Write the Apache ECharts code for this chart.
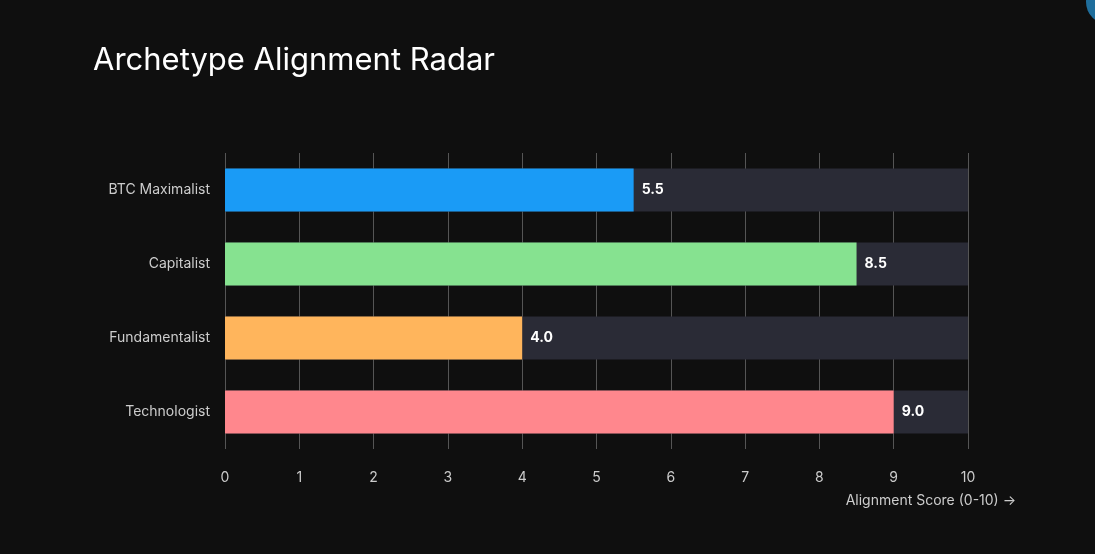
<!DOCTYPE html>
<html><head><meta charset="utf-8">
<script src="https://cdn.jsdelivr.net/npm/echarts@6/dist/echarts.min.js"></script>
<style>html,body{margin:0;background:#0f0f0f;}#c{width:1095px;height:554px;}</style>
</head><body><div id="c"></div>
<script>
const categories = ['Technologist','Fundamentalist','Capitalist','BTC Maximalist'];
const values = [9.0, 4.0, 8.5, 5.5];
const colors = ['#ff878d','#ffb55c','#86e290','#1a9bf6'];
const xTicks = [0,1,2,3,4,5,6,7,8,9,10];
const chart = echarts.init(document.getElementById('c'));
chart.setOption({
  backgroundColor:'#0f0f0f',
  title:{text:'Archetype Alignment Radar',left:88,top:40,textStyle:{color:'#fff',fontSize:31,fontWeight:'normal',fontFamily:'Inter'}},
  graphic:[{type:'circle',shape:{cx:1108,cy:2,r:22},style:{fill:'#1f6e9c'}}],
  grid:{left:225,right:127,top:153,bottom:105},
  xAxis:{type:'value',min:xTicks[0],max:xTicks[xTicks.length-1],interval:1,
    name:'Alignment Score (0-10) →',nameLocation:'end',nameGap:0,
    nameTextStyle:{color:'#ccc',fontSize:14,fontFamily:'Inter',align:'right',verticalAlign:'top',padding:[45,-48,0,0]},
    axisLine:{show:false},axisTick:{show:false},
    axisLabel:{color:'#ccc',fontSize:14,fontFamily:'Inter',margin:22},
    splitLine:{lineStyle:{color:'#555',width:1}}},
  yAxis:{type:'category',data:categories,axisLine:{show:false},axisTick:{show:false},
    axisLabel:{color:'#ccc',fontSize:14,fontFamily:'Inter',margin:15}},
  series:[{type:'bar',barWidth:43,showBackground:true,backgroundStyle:{color:'#2a2b36'},
    data:values.map((v,i)=>({value:v,itemStyle:{color:colors[i]}})),
    label:{show:true,position:'right',color:'#fff',fontWeight:'bold',fontSize:14,fontFamily:'Inter',distance:8,formatter:p=>p.value.toFixed(1)}}]
});
</script></body></html>
